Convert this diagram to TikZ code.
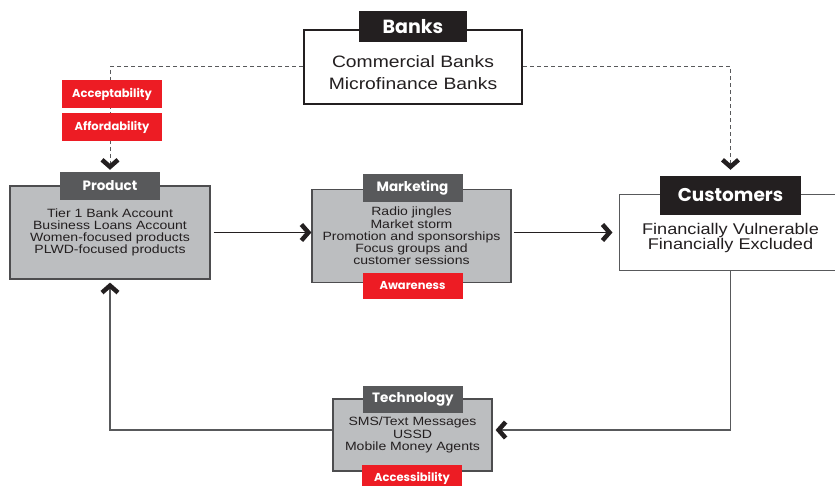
\documentclass[tikz,border=0pt]{standalone}
\usepackage{fontspec}
\newfontfamily\bodyfont[FakeStretch=1.17]{Liberation Sans}
\newfontfamily\labfont{Poppins}
\definecolor{tagred}{HTML}{ED1C24}
\definecolor{labgray}{HTML}{58595B}
\definecolor{boxgray}{HTML}{BCBEC0}
\definecolor{ink}{HTML}{231F20}
\definecolor{edge}{HTML}{4D4D4F}
\definecolor{wire}{HTML}{58595B}
\tikzset{
  graybox/.style={draw=edge, line width=1.2pt, fill=boxgray, inner sep=0pt, text=ink, align=center,
    font=\bodyfont\fontsize{12}{12.2}\selectfont},
  whitebox/.style={draw=#1, fill=white, inner sep=0pt},
  bodytext/.style={text=ink, align=center, inner sep=0pt},
  darklabel/.style={fill=labgray, text=white, inner sep=0pt, minimum width=100pt, minimum height=28pt,
    font=\labfont\bfseries\fontsize{13.5}{13.5}\selectfont},
  tag/.style={fill=tagred, text=white, inner sep=0pt, minimum width=100pt, minimum height=27pt,
    font=\labfont\bfseries\fontsize{11.5}{11.5}\selectfont},
  chevmark/.style={draw=ink, line width=4.5pt, line cap=butt, line join=miter},
  dashline/.style={draw=wire, line width=1pt, dash pattern=on 4pt off 3pt},
  flow/.style={draw=ink, line width=1.5pt},
  wireline/.style={draw=wire, line width=1.2pt},
}
\begin{document}
\begin{tikzpicture}[x=1pt,y=-1pt]
\useasboundingbox (0,0) rectangle (835,486);
% Banks
\node[whitebox=ink, line width=2pt, minimum width=218pt, minimum height=74pt] (banks) at (413,67) {};
\node[bodytext, font=\bodyfont\fontsize{16.5}{22}\selectfont] (bankstext) at (413,73) {Commercial Banks\\Microfinance Banks};
\node[fill=ink, text=white, inner sep=0pt, minimum width=108pt, minimum height=31pt,
  font=\labfont\bfseries\fontsize{19}{19}\selectfont] (bankslab) at (413,26.5) {Banks};
% Product
\node[graybox, minimum width=200pt, minimum height=93pt] (prod) at (110,232.5)
  {Tier 1 Bank Account\\Business Loans Account\\Women-focused products\\PLWD-focused products};
\node[darklabel] (prodlab) at (110,186) {Product};
% Marketing
\node[graybox, minimum width=199pt, minimum height=93pt] (mkt) at (411.5,236)
  {Radio jingles\\Market storm\\Promotion and sponsorships\\Focus groups and\\customer sessions};
\node[darklabel] (mktlab) at (412.5,188) {Marketing};
% Customers
\node[whitebox=wire, line width=1pt, minimum width=223pt, minimum height=76pt] (cust) at (730.5,233) {};
\node[bodytext, font=\bodyfont\fontsize{15.5}{14.5}\selectfont] (custtext) at (730.5,238) {Financially Vulnerable\\Financially Excluded};
\node[fill=ink, text=white, inner sep=0pt, minimum width=141pt, minimum height=39pt,
  font=\labfont\bfseries\fontsize{18.5}{18.5}\selectfont] (custlab) at (730.5,195.5) {Customers};
% Technology
\node[graybox, minimum width=159pt, minimum height=72pt] (tech) at (412.5,435)
  {SMS/Text Messages\\USSD\\Mobile Money Agents};
\node[darklabel, minimum height=27pt] (techlab) at (413,399.5) {Technology};
% connector end points
\coordinate (pIn) at ([yshift=5pt]prodlab.north);
\coordinate (cIn) at ([yshift=9pt]custlab.north);
\coordinate (P) at (prod.east -| mkt.west);
\coordinate (Q) at (prod.east -| cust.west);
\coordinate (R) at ([yshift=5pt]tech.east);
\coordinate (S) at ([yshift=5pt]tech.west);
\coordinate (T) at ([yshift=-6pt]prod.south);
% connectors
\draw[dashline] (banks.west) -| (pIn);
\draw[dashline] (banks.east) -| (cIn);
\draw[flow] ([xshift=3pt]prod.east) -- ([xshift=-3pt]P);
\draw[flow] ([xshift=2pt]prod.east -| mkt.east) -- ([xshift=-9pt]Q);
\draw[wireline] (cust.south) |- ([xshift=6pt]R);
\draw[wireline] (S) -| (T);
% chevron heads
\draw[chevmark] ([xshift=-8pt,yshift=7pt]pIn) -- (pIn) -- ([xshift=8pt,yshift=7pt]pIn);
\draw[chevmark] ([xshift=-8pt,yshift=7pt]cIn) -- (cIn) -- ([xshift=8pt,yshift=7pt]cIn);
\draw[chevmark] ([xshift=-10pt,yshift=8pt]P) -- ([xshift=-3pt]P) -- ([xshift=-10pt,yshift=-8pt]P);
\draw[chevmark] ([xshift=-16pt,yshift=8pt]Q) -- ([xshift=-9pt]Q) -- ([xshift=-16pt,yshift=-8pt]Q);
\draw[chevmark] ([xshift=13pt,yshift=8pt]R) -- ([xshift=6pt]R) -- ([xshift=13pt,yshift=-8pt]R);
\draw[chevmark] ([xshift=-8pt,yshift=-7pt]T) -- (T) -- ([xshift=8pt,yshift=-7pt]T);
% tags
\node[tag, minimum height=28pt] (accept) at (112,94) {Acceptability};
\node[tag, minimum height=28pt] (afford) at (112,127) {Affordability};
\node[tag, minimum height=26pt] (aware) at (412.5,286) {Awareness};
\node[tag, minimum height=26pt] (access) at (412,478) {Accessibility};
\end{tikzpicture}
\end{document}
